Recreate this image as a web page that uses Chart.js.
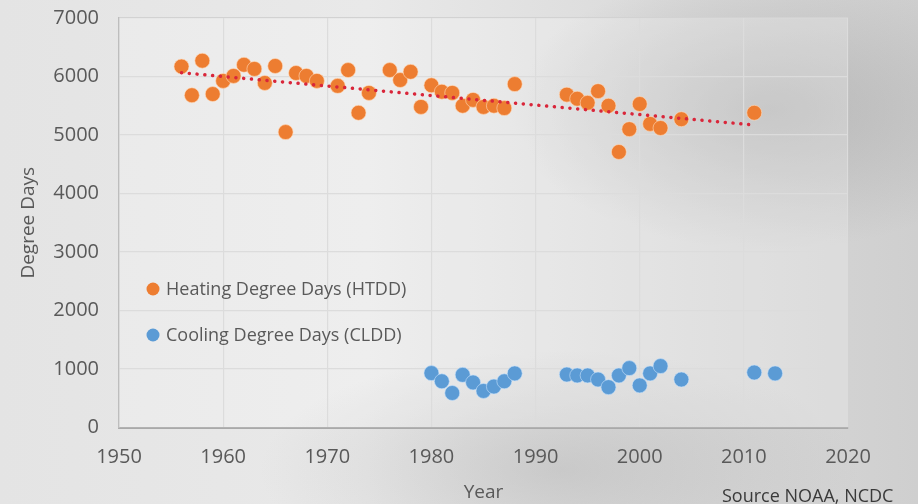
<!DOCTYPE html>
<html>
<head>
<meta charset="utf-8">
<script src="https://cdn.jsdelivr.net/npm/chart.js@4.4.1/dist/chart.umd.min.js"></script>
<style>
  html, body { margin: 0; padding: 0; }
  body {
    width: 918px; height: 504px; overflow: hidden; position: relative;
    background:
      radial-gradient(ellipse 260px 140px at 770px 110px, rgba(150,150,150,0.45), rgba(150,150,150,0) 100%),
      radial-gradient(ellipse 300px 120px at 560px 470px, rgba(160,160,160,0.35), rgba(160,160,160,0) 100%),
      linear-gradient(90deg, #e4e4e4 0%, #e9e9e9 40%, #d9d9d9 75%, #cfcfcf 100%);
  }
  #wrap { position: absolute; left: 0; top: 0; width: 918px; height: 504px; }
  #source {
    position: absolute; left: 722px; top: 484px;
    font-family: "Open Sans", sans-serif; font-size: 18px; color: #3a3a3a;
    line-height: 22px; white-space: nowrap;
  }
</style>
</head>
<body>
<div id="wrap"><canvas id="chart" width="918" height="504"></canvas></div>
<div id="source">Source NOAA, NCDC</div>
<script>
// data
const htddYears = [1956, 1957, 1958, 1959, 1960, 1961, 1962, 1963, 1964, 1965, 1966, 1967, 1968, 1969,
  1971, 1972, 1973, 1974, 1976, 1977, 1978, 1979, 1980, 1981, 1982, 1983, 1984, 1985, 1986, 1987, 1988,
  1993, 1994, 1995, 1996, 1997, 1998, 1999, 2000, 2001, 2002, 2004, 2011];
const htddValues = [6170, 5680, 6270, 5700, 5925, 6010, 6200, 6130, 5890, 6180, 5050, 6060, 6010, 5925,
  5840, 6110, 5380, 5720, 6110, 5940, 6080, 5480, 5850, 5740, 5720, 5500, 5600, 5480, 5500, 5460, 5870,
  5690, 5620, 5550, 5750, 5500, 4710, 5100, 5530, 5190, 5120, 5270, 5380];

const clddYears = [1980, 1981, 1982, 1983, 1984, 1985, 1986, 1987, 1988,
  1993, 1994, 1995, 1996, 1997, 1998, 1999, 2000, 2001, 2002, 2004, 2011, 2013];
const clddValues = [930, 790, 590, 900, 770, 625, 700, 790, 925,
  905, 890, 890, 820, 690, 890, 1015, 720, 925, 1050, 820, 940, 925];

const trendYears = [1956, 2011];
const trendValues = [6065, 5170];

const legendLabels = ["Heating Degree Days (HTDD)", "Cooling Degree Days (CLDD)"];
const xTicks = [1950, 1960, 1970, 1980, 1990, 2000, 2010, 2020];
const yTicks = [0, 1000, 2000, 3000, 4000, 5000, 6000, 7000];

const orange = "#ed7d31";
const blue = "#5b9bd5";
const textGray = "#595959";

function toPoints(xs, ys) {
  return xs.map((x, i) => ({ x: x, y: ys[i] }));
}

// plot area tint + legend drawn inside the plot
const plotPlugin = {
  id: "plotDecor",
  beforeDatasetsDraw(chart) {
    const { ctx, chartArea: a } = chart;
    ctx.save();
    ctx.fillStyle = "rgba(255,255,255,0.22)";
    ctx.fillRect(a.left, a.top, a.right - a.left, a.bottom - a.top);
    ctx.restore();
  },
  afterDraw(chart) {
    const ctx = chart.ctx;
    const colors = [orange, blue];
    ctx.save();
    ctx.font = "18px 'Open Sans'";
    ctx.textBaseline = "middle";
    legendLabels.forEach((label, i) => {
      const y = 289 + i * 46;
      ctx.fillStyle = colors[i];
      ctx.beginPath();
      ctx.arc(153, y, 6.5, 0, Math.PI * 2);
      ctx.fill();
      ctx.fillStyle = textGray;
      ctx.fillText(label, 166, y + 1);
    });
    ctx.restore();
  }
};

new Chart(document.getElementById("chart").getContext("2d"), {
  type: "scatter",
  data: {
    datasets: [
      {
        label: legendLabels[0],
        data: toPoints(htddYears, htddValues),
        backgroundColor: orange,
        borderColor: "rgba(255,220,190,0.6)",
        borderWidth: 1,
        pointRadius: 7.5,
        order: 2
      },
      {
        label: legendLabels[1],
        data: toPoints(clddYears, clddValues),
        backgroundColor: blue,
        borderColor: "rgba(200,225,250,0.6)",
        borderWidth: 1,
        pointRadius: 7.5,
        order: 2
      },
      {
        label: "Trend",
        type: "line",
        data: toPoints(trendYears, trendValues),
        borderColor: "#d9263a",
        borderWidth: 3.5,
        borderDash: [0.1, 7.7],
        borderCapStyle: "round",
        pointRadius: 0,
        fill: false,
        order: 1
      }
    ]
  },
  options: {
    responsive: false,
    animation: false,
    layout: { padding: { top: 18, right: 70, left: 0, bottom: 0 } },
    plugins: {
      legend: { display: false },
      tooltip: { enabled: false }
    },
    scales: {
      x: {
        type: "linear",
        min: 1950,
        max: 2020,
        afterBuildTicks(scale) { scale.ticks = xTicks.map(v => ({ value: v })); },
        afterFit(scale) { scale.height = 76.5; },
        ticks: {
          color: textGray,
          font: { family: "Open Sans", size: 20 },
          padding: 18,
          maxRotation: 0,
          callback: v => String(v)
        },
        grid: { color: "#d2d2d2", lineWidth: 1.2, drawTicks: false },
        border: { color: "#a9a9a9", width: 2 },
        title: {
          display: true,
          text: "Year",
          color: textGray,
          font: { family: "Open Sans", size: 19 },
          padding: { top: 0, bottom: 0 }
        }
      },
      y: {
        type: "linear",
        min: 0,
        max: 7000,
        afterBuildTicks(scale) { scale.ticks = yTicks.map(v => ({ value: v })); },
        afterFit(scale) {
          scale.width = 119;
          scale.paddingTop = 0;
          scale.paddingBottom = 0;
        },
        ticks: {
          color: textGray,
          font: { family: "Open Sans", size: 20 },
          padding: 20,
          callback: v => String(v)
        },
        grid: { color: "#d2d2d2", lineWidth: 1.2, drawTicks: false },
        border: { color: "#bdbdbd", width: 1.5 },
        title: {
          display: true,
          text: "Degree Days",
          color: textGray,
          font: { family: "Open Sans", size: 19 },
          padding: { top: 17, bottom: 0 }
        }
      }
    }
  },
  plugins: [plotPlugin]
});
</script>
</body>
</html>
